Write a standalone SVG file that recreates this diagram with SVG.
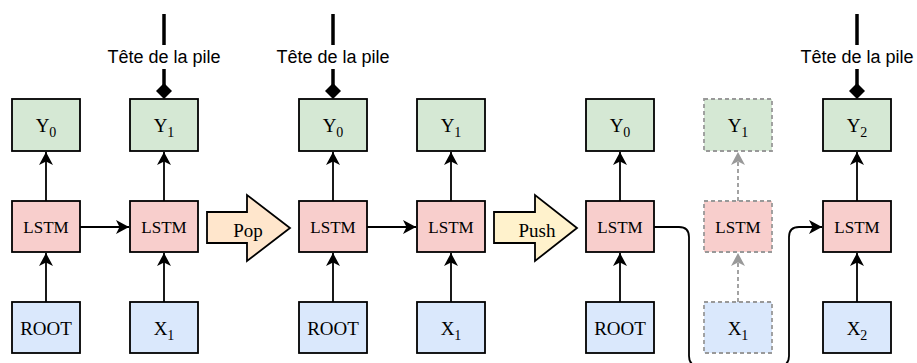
<svg xmlns="http://www.w3.org/2000/svg" width="917" height="363" viewBox="0 0 917 363">
<defs>
<style>
.box{stroke:#000;stroke-width:1.8}
.ghost{stroke:#999;stroke-width:1.8;stroke-dasharray:4 3}
.y{fill:#d5e8d4}.l{fill:#f8cecc}.x{fill:#dae8fc}
.t{font-family:"Liberation Serif","Times New Roman",serif;fill:#000;text-anchor:middle}
.big{font-size:19px}.sm{font-size:17px}
.sub{font-size:14px}
.lbl{font-family:"Liberation Sans",Arial,sans-serif;font-size:18px;text-anchor:middle;fill:#000}
.c{fill:none;stroke:#000;stroke-width:1.8}
.cg{fill:none;stroke:#999;stroke-width:1.8;stroke-dasharray:4 3}
.head{fill:none;stroke:#000;stroke-width:3.5}
</style>
<marker id="ar" markerUnits="userSpaceOnUse" markerWidth="16" markerHeight="16" viewBox="0 0 16 16" refX="14" refY="8" orient="auto">
<path d="M1,1 L14,8 L1,15 L4.5,8 Z" fill="#000"/>
</marker>
<marker id="arg" markerUnits="userSpaceOnUse" markerWidth="16" markerHeight="16" viewBox="0 0 16 16" refX="14" refY="8" orient="auto">
<path d="M1,1 L14,8 L1,15 L4.5,8 Z" fill="#999"/>
</marker>
</defs>

<g id="connectors">
<line class="c" x1="46" y1="302" x2="46" y2="253" marker-end="url(#ar)"/>
<line class="c" x1="46" y1="201" x2="46" y2="152" marker-end="url(#ar)"/>
<line class="c" x1="164" y1="302" x2="164" y2="253" marker-end="url(#ar)"/>
<line class="c" x1="164" y1="201" x2="164" y2="152" marker-end="url(#ar)"/>
<line class="c" x1="80" y1="227" x2="129" y2="227" marker-end="url(#ar)"/>
<line class="c" x1="333" y1="302" x2="333" y2="253" marker-end="url(#ar)"/>
<line class="c" x1="333" y1="201" x2="333" y2="152" marker-end="url(#ar)"/>
<line class="c" x1="451" y1="302" x2="451" y2="253" marker-end="url(#ar)"/>
<line class="c" x1="451" y1="201" x2="451" y2="152" marker-end="url(#ar)"/>
<line class="c" x1="367" y1="227" x2="416" y2="227" marker-end="url(#ar)"/>
<line class="c" x1="620" y1="302" x2="620" y2="253" marker-end="url(#ar)"/>
<line class="c" x1="620" y1="201" x2="620" y2="152" marker-end="url(#ar)"/>
<line class="cg" x1="738" y1="302" x2="738" y2="253" marker-end="url(#arg)"/>
<line class="cg" x1="738" y1="201" x2="738" y2="152" marker-end="url(#arg)"/>
<line class="c" x1="857" y1="302" x2="857" y2="253" marker-end="url(#ar)"/>
<line class="c" x1="857" y1="201" x2="857" y2="152" marker-end="url(#ar)"/>
<path class="c" d="M654,227 H679 Q689,227 689,237 V356 Q689,366 699,366 H779 Q789,366 789,356 V237 Q789,227 799,227 H822" marker-end="url(#ar)"/>
</g>

<g id="head1">
<line class="head" x1="164" y1="14" x2="164" y2="45"/>
<line class="head" x1="164" y1="69" x2="164" y2="85"/>
<path d="M164,83 L172,91 L164,99 L156,91 Z" fill="#000"/>
<text class="lbl" x="164" y="63">Tête de la pile</text>
</g>
<g id="head2">
<line class="head" x1="333" y1="14" x2="333" y2="45"/>
<line class="head" x1="333" y1="69" x2="333" y2="85"/>
<path d="M333,83 L341,91 L333,99 L325,91 Z" fill="#000"/>
<text class="lbl" x="333" y="63">Tête de la pile</text>
</g>
<g id="head3">
<line class="head" x1="857" y1="14" x2="857" y2="45"/>
<line class="head" x1="857" y1="69" x2="857" y2="85"/>
<path d="M857,83 L865,91 L857,99 L849,91 Z" fill="#000"/>
<text class="lbl" x="857" y="63">Tête de la pile</text>
</g>

<g id="y0a"><rect class="box y" x="12" y="99" width="68" height="52"/><text class="t big" x="46" y="132">Y<tspan class="sub" dy="5">0</tspan></text></g>
<g id="y1a"><rect class="box y" x="130" y="99" width="68" height="52"/><text class="t big" x="164" y="132">Y<tspan class="sub" dy="5">1</tspan></text></g>
<g id="l0a"><rect class="box l" x="12" y="201" width="68" height="51"/><text class="t sm" x="46" y="233">LSTM</text></g>
<g id="l1a"><rect class="box l" x="130" y="201" width="68" height="51"/><text class="t sm" x="164" y="233">LSTM</text></g>
<g id="r0a"><rect class="box x" x="12" y="302" width="68" height="51"/><text class="t big" x="46" y="335">ROOT</text></g>
<g id="x1a"><rect class="box x" x="130" y="302" width="68" height="51"/><text class="t big" x="164" y="335">X<tspan class="sub" dy="5">1</tspan></text></g>

<g id="pop"><polygon class="box" fill="#ffe6cc" points="207,212 247,212 247,195 290,228 247,261 247,243 207,243"/><text class="t big" x="248" y="237">Pop</text></g>

<g id="y0b"><rect class="box y" x="299" y="99" width="68" height="52"/><text class="t big" x="333" y="132">Y<tspan class="sub" dy="5">0</tspan></text></g>
<g id="y1b"><rect class="box y" x="417" y="99" width="68" height="52"/><text class="t big" x="451" y="132">Y<tspan class="sub" dy="5">1</tspan></text></g>
<g id="l0b"><rect class="box l" x="299" y="201" width="68" height="51"/><text class="t sm" x="333" y="233">LSTM</text></g>
<g id="l1b"><rect class="box l" x="417" y="201" width="68" height="51"/><text class="t sm" x="451" y="233">LSTM</text></g>
<g id="r0b"><rect class="box x" x="299" y="302" width="68" height="51"/><text class="t big" x="333" y="335">ROOT</text></g>
<g id="x1b"><rect class="box x" x="417" y="302" width="68" height="51"/><text class="t big" x="451" y="335">X<tspan class="sub" dy="5">1</tspan></text></g>

<g id="push"><polygon class="box" fill="#fff2cc" points="494,212 535,212 535,195 577,228 535,261 535,243 494,243"/><text class="t big" x="537" y="237">Push</text></g>

<g id="y0c"><rect class="box y" x="586" y="99" width="68" height="52"/><text class="t big" x="620" y="132">Y<tspan class="sub" dy="5">0</tspan></text></g>
<g id="y1c"><rect class="ghost y" x="704" y="99" width="68" height="52"/><text class="t big" x="738" y="132">Y<tspan class="sub" dy="5">1</tspan></text></g>
<g id="y2c"><rect class="box y" x="823" y="99" width="68" height="52"/><text class="t big" x="857" y="132">Y<tspan class="sub" dy="5">2</tspan></text></g>
<g id="l0c"><rect class="box l" x="586" y="201" width="68" height="51"/><text class="t sm" x="620" y="233">LSTM</text></g>
<g id="l1c"><rect class="ghost l" x="704" y="201" width="68" height="51"/><text class="t sm" x="738" y="233">LSTM</text></g>
<g id="l2c"><rect class="box l" x="823" y="201" width="68" height="51"/><text class="t sm" x="857" y="233">LSTM</text></g>
<g id="r0c"><rect class="box x" x="586" y="302" width="68" height="51"/><text class="t big" x="620" y="335">ROOT</text></g>
<g id="x1c"><rect class="ghost x" x="704" y="302" width="68" height="51"/><text class="t big" x="738" y="335">X<tspan class="sub" dy="5">1</tspan></text></g>
<g id="x2c"><rect class="box x" x="823" y="302" width="68" height="51"/><text class="t big" x="857" y="335">X<tspan class="sub" dy="5">2</tspan></text></g>
</svg>
